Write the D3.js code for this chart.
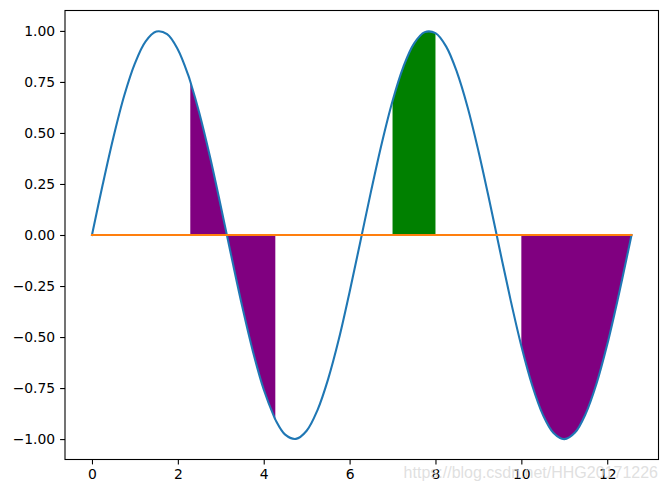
<!DOCTYPE html>
<html><head><meta charset="utf-8">
<script src="https://cdn.jsdelivr.net/npm/d3@7"></script>
<style>body{margin:0;background:#fff}svg{display:block}</style>
</head><body>
<svg id="c" width="667" height="490"></svg>
<script>
const xs = [0,0.25,0.5,0.75,1.0,1.25,1.5,1.75,2.0,2.25,2.29,2.5,2.75,3.0,3.25,3.5,3.75,4.0,4.25,4.27,4.5,4.75,5.0,5.25,5.5,5.75,6.0,6.25,6.5,6.75,7.0,7.25,7.5,7.75,8.0,8.25,8.5,8.75,9.0,9.25,9.5,9.75,10.0,10.25,10.5,10.75,11.0,11.25,11.5,11.75,12.0,12.25,12.5,12.566];
const ys = [0,0.247,0.479,0.682,0.841,0.949,0.997,0.984,0.909,0.778,0.752,0.598,0.382,0.141,-0.108,-0.351,-0.572,-0.757,-0.895,-0.904,-0.978,-0.999,-0.959,-0.859,-0.706,-0.510,-0.279,-0.033,0.215,0.450,0.657,0.823,0.938,0.994,0.989,0.923,0.798,0.625,0.412,0.174,-0.075,-0.319,-0.544,-0.735,-0.880,-0.970,-1.000,-0.968,-0.875,-0.729,-0.537,-0.311,-0.066,0];
const fills = [
  {from: 2.29, to: 4.27, color: "purple"},
  {from: 7.0, to: 8.0, color: "green"},
  {from: 10.0, to: 12.566, color: "purple"}
];
const xTicks = [0,2,4,6,8,10,12];
const yTicks = [-1.00,-0.75,-0.50,-0.25,0.00,0.25,0.50,0.75,1.00];

const pts = xs.map((x,i)=>({x, y: ys[i]}));
const svg = d3.select("#c");
const L=65, R=658.5, T=10.5, B=459.5;
const xMin = 0, xMax = xs[xs.length-1];
const pad = (xMax-xMin)*0.05;
const x = d3.scaleLinear().domain([xMin-pad, xMax+pad]).range([L, R]);
const y = d3.scaleLinear().domain([-1.1, 1.1]).range([B, T]);

const g = svg.append("g");
fills.forEach(f => {
  const sub = pts.filter(p => p.x >= f.from - 1e-9 && p.x <= f.to + 1e-9);
  g.append("path")
    .attr("d", d3.area().x(d=>x(d.x)).y0(y(0)).y1(d=>y(d.y)).curve(d3.curveCatmullRom)(sub))
    .attr("fill", f.color);
});
g.append("path")
  .attr("d", d3.line().x(d=>x(d.x)).y(d=>y(d.y)).curve(d3.curveCatmullRom)(pts))
  .attr("fill","none").attr("stroke","#1f77b4").attr("stroke-width",2.08).attr("stroke-linecap","square");
g.append("path")
  .attr("d", d3.line().x(d=>x(d.x)).y(()=>y(0))([pts[0], pts[pts.length-1]]))
  .attr("fill","none").attr("stroke","#ff7f0e").attr("stroke-width",2.08).attr("stroke-linecap","square");

const font = "'DejaVu Sans', sans-serif";
const xa = svg.append("g").attr("transform",`translate(0,${B})`)
  .call(d3.axisBottom(x).tickValues(xTicks).tickFormat(d3.format("d")).tickSize(4.9).tickPadding(4.9).tickSizeOuter(0));
const ya = svg.append("g").attr("transform",`translate(${L},0)`)
  .call(d3.axisLeft(y).tickValues(yTicks).tickFormat(d => d<0 ? "\u2212"+d3.format(".2f")(-d) : d3.format(".2f")(d)).tickSize(4.9).tickPadding(4.9).tickSizeOuter(0));
[xa,ya].forEach(a=>{
  a.select(".domain").remove();
  a.selectAll("line").attr("stroke","#000").attr("stroke-width",1.1);
  a.selectAll("text").attr("font-family",font).attr("font-size","13.9px").attr("fill","#000");
});
svg.append("rect").attr("x",L).attr("y",T).attr("width",R-L).attr("height",B-T)
  .attr("fill","none").attr("stroke","#000").attr("stroke-width",1.1);

svg.append("text").attr("x",658).attr("y",478).attr("text-anchor","end")
  .attr("font-family","'Liberation Sans', Arial, sans-serif").attr("font-size","16px")
  .attr("fill","#d8d8d8").attr("fill-opacity",0.8).text("https://blog.csdn.net/HHG20171226");
</script>
</body></html>
